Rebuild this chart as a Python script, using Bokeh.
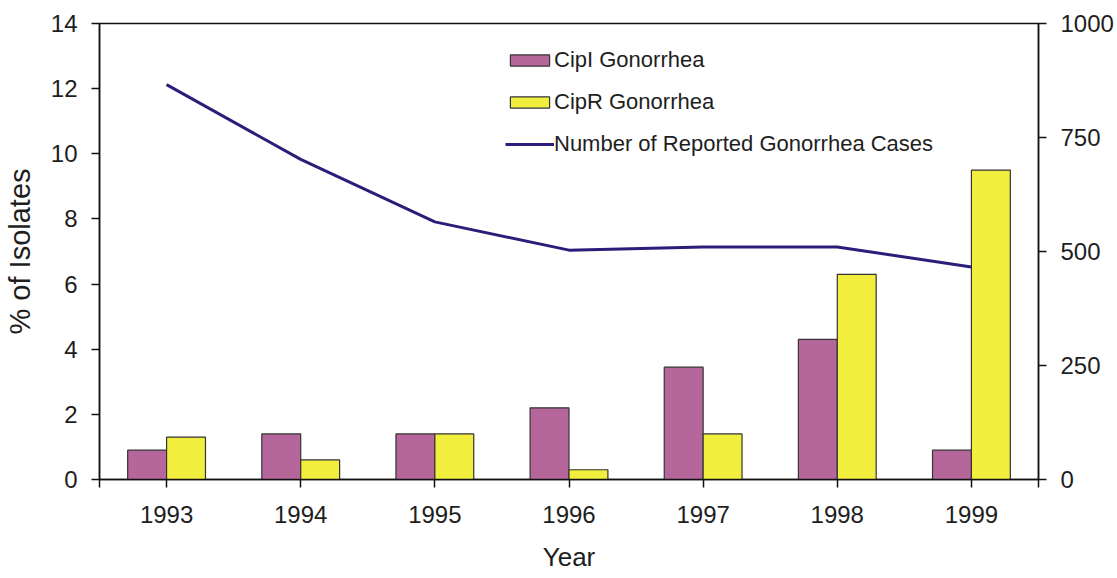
from bokeh.plotting import figure
from bokeh.models import Range1d, LinearAxis, FixedTicker, Legend, LegendItem, ColumnDataSource
from bokeh.embed import file_html
from bokeh.resources import INLINE

years = ["1993", "1994", "1995", "1996", "1997", "1998", "1999"]
cipi = [0.9, 1.4, 1.4, 2.2, 3.45, 4.3, 0.9]
cipr = [1.3, 0.6, 1.4, 0.3, 1.4, 6.3, 9.5]
cases = [866, 702, 565, 503, 510, 510, 466]
left_ticks = [0, 2, 4, 6, 8, 10, 12, 14]
right_ticks = [0, 250, 500, 750, 1000]

FONT = "Liberation Sans"
TXT = "#1e1e1e"
idx = list(range(len(years)))
off = 0.145
bw = 0.29

src = ColumnDataSource(dict(
    xi=[i - off for i in idx], xr=[i + off for i in idx], x=idx,
    cipi=cipi, cipr=cipr, cases=cases))

p = figure(width=1117, height=578, output_backend="svg", toolbar_location=None,
           x_range=Range1d(-0.5, 6.5), y_range=Range1d(0, 14))
p.min_border_left = 98
p.min_border_right = 79
p.min_border_top = 23
p.min_border_bottom = 99
p.extra_y_ranges = {"right": Range1d(0, 1000)}
p.grid.visible = False
p.outline_line_color = "#111111"
p.outline_line_width = 1.5
p.background_fill_color = "white"
p.border_fill_color = "white"

b1 = p.vbar(x="xi", top="cipi", width=bw, source=src, fill_color="#b5669a",
            line_color="#333333", line_width=1.2)
b2 = p.vbar(x="xr", top="cipr", width=bw, source=src, fill_color="#f2ee3e",
            line_color="#333333", line_width=1.2)
ln = p.line(x="x", y="cases", source=src, y_range_name="right",
            line_color="#2b1e7a", line_width=3)

def style(ax):
    ax.axis_line_color = "#111111"
    ax.axis_line_width = 1.5
    ax.major_tick_line_color = "#111111"
    ax.major_tick_line_width = 1.5
    ax.major_tick_out = 8
    ax.major_tick_in = 0
    ax.minor_tick_line_color = None
    ax.major_label_text_font = FONT
    ax.major_label_text_font_size = "24px"
    ax.major_label_text_color = TXT
    ax.axis_label_text_font = FONT
    ax.axis_label_text_font_style = "normal"
    ax.axis_label_text_color = TXT

xa = p.xaxis[0]
style(xa)
xa.ticker = FixedTicker(ticks=[-0.5] + idx + [6.5])
ov = {-0.5: "", 6.5: ""}
for i, y in zip(idx, years):
    ov[i] = y
xa.major_label_overrides = ov
xa.major_label_standoff = 18
xa.axis_label = "Year"
xa.axis_label_text_font_size = "26px"
xa.axis_label_standoff = 16

ya = p.yaxis[0]
style(ya)
ya.ticker = FixedTicker(ticks=left_ticks)
ya.major_label_standoff = 14
ya.axis_label = "% of Isolates"
ya.axis_label_text_font_size = "29px"
ya.axis_label_standoff = 12

ra = LinearAxis(y_range_name="right", ticker=FixedTicker(ticks=right_ticks))
style(ra)
ra.major_label_standoff = 14
p.add_layout(ra, "right")

leg = Legend(items=[
    LegendItem(label="CipI Gonorrhea", renderers=[b1]),
    LegendItem(label="CipR Gonorrhea", renderers=[b2]),
    LegendItem(label="Number of Reported Gonorrhea Cases", renderers=[ln]),
], location=(406, 322))
leg.border_line_color = None
leg.background_fill_alpha = 0
leg.padding = 0
leg.margin = 0
leg.spacing = 16
leg.glyph_width = 49
leg.glyph_height = 14
leg.label_height = 22
leg.label_standoff = 0
leg.label_text_font = FONT
leg.label_text_font_size = "22px"
leg.label_text_color = TXT
p.add_layout(leg)

open("out.html", "w").write(file_html(p, INLINE))
